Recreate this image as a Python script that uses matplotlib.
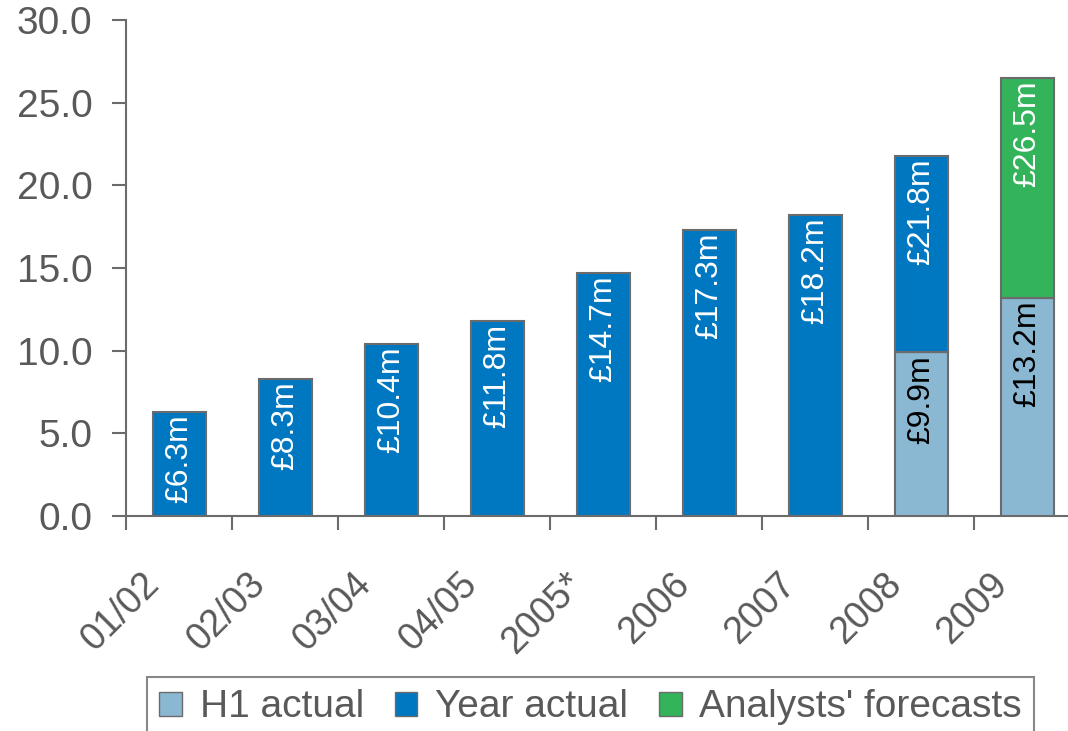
import numpy as np
import matplotlib
matplotlib.use('Agg')
import matplotlib.pyplot as plt
import matplotlib.transforms as mtrans
from matplotlib.patches import Patch
from matplotlib.ticker import FormatStrFormatter

plt.rcParams['font.family'] = ['Liberation Sans', 'DejaVu Sans']

#data
categories = ['01/02', '02/03', '03/04', '04/05', '2005*', '2006', '2007', '2008', '2009']
h1_actual = [0, 0, 0, 0, 0, 0, 0, 9.9, 13.2]
year_actual = [6.3, 8.3, 10.4, 11.8, 14.7, 17.3, 18.2, 21.8, 0]      # full year totals
forecasts = [0, 0, 0, 0, 0, 0, 0, 0, 26.5]                             # forecast totals

c_h1 = '#8ab8d2'
c_year = '#0077c1'
c_fc = '#33b35a'
c_edge = '#6b6b6b'
c_text = '#595959'

fig = plt.figure(figsize=(10.68, 7.31), dpi=100)
ax = fig.add_axes([126/1068, 215/731, (1080-126)/1068, 496/731])

x = np.arange(len(categories))
h1 = np.array(h1_actual)
yr = np.array(year_actual)
fc = np.array(forecasts)
w = 0.5

yr_part = np.where(yr > 0, yr - h1, 0)
fc_part = np.where(fc > 0, fc - h1, 0)

ax.bar(x, h1, w, color=c_h1, edgecolor=c_edge, linewidth=1.5, zorder=3)
ax.bar(x, yr_part, w, bottom=h1, color=c_year, edgecolor=c_edge, linewidth=1.5, zorder=3)
ax.bar(x, fc_part, w, bottom=h1, color=c_fc, edgecolor=c_edge, linewidth=1.5, zorder=3)

def label(xi, top, val, col):
    ax.annotate('£%.1fm' % val, (xi, top), xytext=(0, -2), textcoords='offset points',
                rotation=90, ha='center', va='top', color=col, fontsize=23, zorder=4)

for i in range(len(categories)):
    if h1[i] > 0:
        label(x[i], h1[i], h1[i], 'black')
    if yr[i] > 0:
        label(x[i], yr[i], yr[i], 'white')
    if fc[i] > 0:
        label(x[i], fc[i], fc[i], 'white')

ax.set_ylim(0, 30)
ax.set_xlim(-0.5, len(categories) - 0.5)
ax.set_yticks(np.arange(0, 30.1, 5))
ax.yaxis.set_major_formatter(FormatStrFormatter('%.1f'))

# ticks on category boundaries, labels at centres
ax.set_xticks(np.arange(-0.5, len(categories), 1))
ax.set_xticklabels([])
ax.set_xticks(x, minor=True)
ax.set_xticklabels(categories, minor=True, rotation=45, ha='right', va='top',
                   rotation_mode='anchor', fontsize=27, color=c_text)
ax.tick_params(axis='x', which='minor', length=0, pad=18)
ax.tick_params(axis='x', which='major', length=10, width=1.5, color=c_edge, direction='out')
ax.tick_params(axis='y', length=10, width=1.5, color=c_edge, labelsize=28, labelcolor=c_text, pad=14)

shift = mtrans.ScaledTranslation(-38/100, -25/100, fig.dpi_scale_trans)
for t in ax.get_xticklabels(minor=True):
    t.set_transform(t.get_transform() + shift)

for s in ['top', 'right']:
    ax.spines[s].set_visible(False)
for s in ['left', 'bottom']:
    ax.spines[s].set_color(c_edge)
    ax.spines[s].set_linewidth(1.5)

handles = [Patch(facecolor=c_h1, edgecolor=c_edge), Patch(facecolor=c_year, edgecolor=c_edge),
           Patch(facecolor=c_fc, edgecolor=c_edge)]
leg = fig.legend(handles, ['H1 actual', 'Year actual', "Analysts' forecasts"], ncol=3,
                 loc='upper left', bbox_to_anchor=(147/1068, 1 - 677/731), fontsize=28,
                 frameon=True, fancybox=False, handlelength=0.58, handleheight=0.58,
                 handletextpad=0.45, columnspacing=0.8, borderpad=0.32, borderaxespad=0,
                 labelcolor=c_text)
leg.get_frame().set_edgecolor(c_edge)
leg.get_frame().set_linewidth(1.5)

plt.savefig('out.png', dpi=100)
